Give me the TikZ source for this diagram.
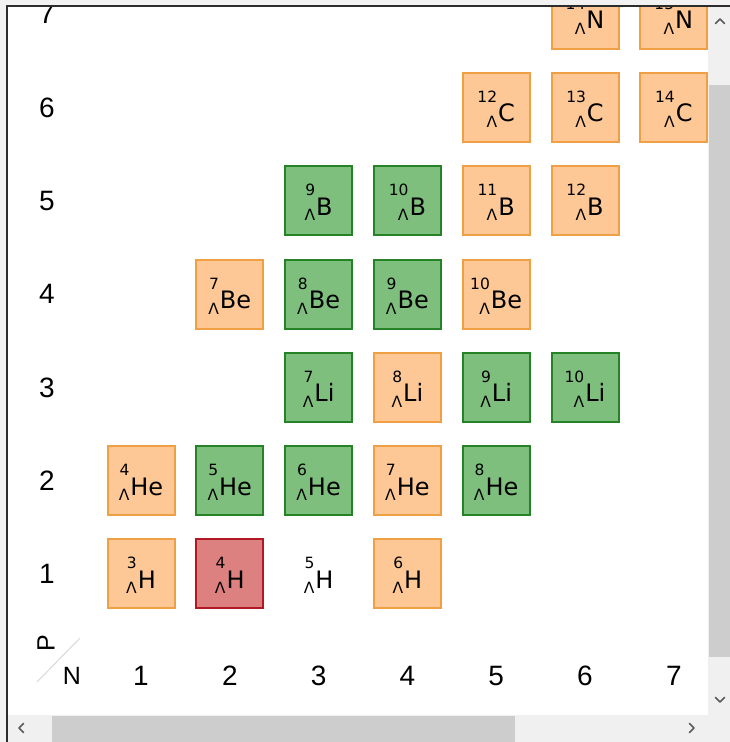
\documentclass[tikz,border=0pt]{standalone}
\usepackage{fontspec}
\setmainfont{DejaVu Sans}
\newfontfamily\axisfont{Liberation Sans}
\newcommand\supf{\fontsize{15.5}{17}\selectfont}
\newcommand\elf{\fontsize{24}{26}\selectfont}
\newcommand\nuc[2]{\raisebox{-5.5pt}{\supf\begin{tabular}[b]{@{}r@{}}#1\\[8pt]Λ\end{tabular}}\kern1pt{\elf #2}}
\definecolor{ofill}{RGB}{253,200,150}
\definecolor{oline}{RGB}{240,160,68}
\definecolor{gfill}{RGB}{126,191,126}
\definecolor{gline}{RGB}{38,130,38}
\definecolor{rfill}{RGB}{221,128,128}
\definecolor{rline}{RGB}{176,24,36}
\definecolor{bgc}{RGB}{242,242,242}
\definecolor{trackc}{RGB}{240,240,240}
\definecolor{thumbc}{RGB}{205,205,205}
\definecolor{framec}{RGB}{45,45,45}
\definecolor{arrc}{RGB}{90,90,90}
\tikzset{
  pbox/.style={inner sep=0pt, minimum width=67pt, minimum height=69pt, text height=29pt, text depth=0pt, text=black},
  obox/.style={pbox, draw=oline, fill=ofill, line width=2pt},
  gbox/.style={pbox, draw=gline, fill=gfill, line width=2pt},
  rbox/.style={pbox, draw=rline, fill=rfill, line width=2pt},
  axlab/.style={font=\axisfont\fontsize{28}{30}\selectfont, inner sep=0pt, text=black},
  nplab/.style={font=\axisfont\fontsize{25}{27}\selectfont, inner sep=0pt, text=black},
  chev/.style={draw=arrc, line width=1.6pt, line cap=round, line join=round}
}
\begin{document}
\begin{tikzpicture}[x=1pt,y=1pt]
\useasboundingbox (0,0) rectangle (730,742);
\fill[bgc] (0,0) rectangle (730,742);
\fill[white] (7,0) rectangle (730,736);
\begin{scope}
  \clip (7.6,27) rectangle (708,735.4);
  % boxes
  \foreach \n/\p/\a/\el/\st in {
    1/1/3/H/obox, 2/1/4/H/rbox, 3/1/5/H/pbox, 4/1/6/H/obox,
    1/2/4/He/obox, 2/2/5/He/gbox, 3/2/6/He/gbox, 4/2/7/He/obox, 5/2/8/He/gbox,
    3/3/7/Li/gbox, 4/3/8/Li/obox, 5/3/9/Li/gbox, 6/3/10/Li/gbox,
    2/4/7/Be/obox, 3/4/8/Be/gbox, 4/4/9/Be/gbox, 5/4/10/Be/obox,
    3/5/9/B/gbox, 4/5/10/B/gbox, 5/5/11/B/obox, 6/5/12/B/obox,
    5/6/12/C/obox, 6/6/13/C/obox, 7/6/14/C/obox,
    6/7/14/N/obox, 7/7/15/N/obox}
  { \node[\st] (b\a\el) at ({141+(\n-1)*88.8},{168+(\p-1)*93.3}) {\nuc{\a}{\el}}; }
  % row labels
  \foreach \p in {1,...,7}
  { \node[axlab] (row\p) at (47,{168+(\p-1)*93.3}) {\p}; }
  % column labels
  \foreach \n in {1,...,7}
  { \node[axlab] (col\n) at ({141+(\n-1)*88.8},66) {\n}; }
  % corner
  \coordinate (sl1) at (37,60);
  \coordinate (sl2) at (80,104);
  \draw[black!15, line width=1pt] (sl1) -- (sl2);
  \node[nplab, rotate=90] (Plab) at (46,99) {P};
  \node[nplab] (Nlab) at (72,66) {N};
\end{scope}
% scrollbars
\fill[trackc] (708,27) rectangle (730,736);
\fill[thumbc] (709,85) rectangle (730,657);
\fill[trackc] (7.6,0) rectangle (730,27);
\fill[thumbc] (52,0) rectangle (515,26);
\draw[chev] (715.5,718.5) -- (720,723) -- (724.5,718.5);
\draw[chev] (715.5,44.5) -- (720,40) -- (724.5,44.5);
\draw[chev] (23.5,18.5) -- (19,14) -- (23.5,9.5);
\draw[chev] (689.5,18.5) -- (694,14) -- (689.5,9.5);
% frame
\draw[framec, line width=1.3pt] (7,0) -- (7,736) -- (730,736);
\end{tikzpicture}
\end{document}
